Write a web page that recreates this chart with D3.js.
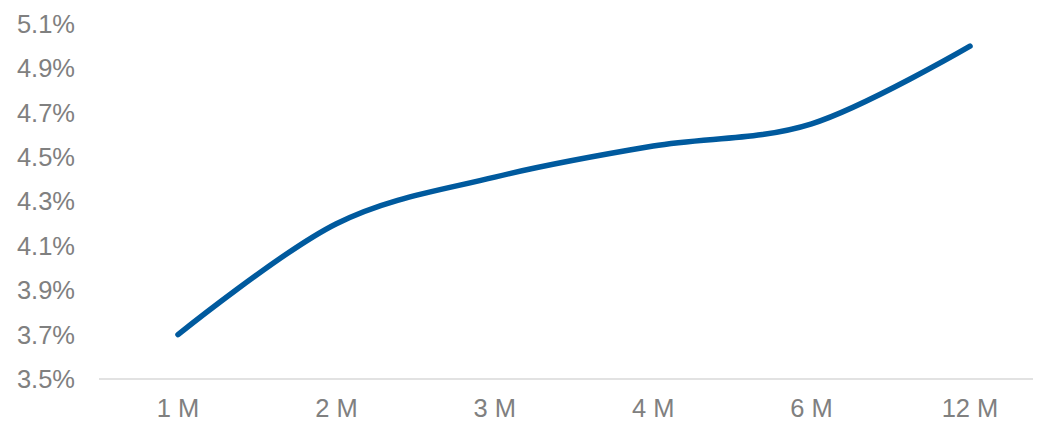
<!DOCTYPE html>
<html>
<head>
<meta charset="utf-8">
<script src="https://cdn.jsdelivr.net/npm/d3@7"></script>
<style>
  html, body { margin: 0; padding: 0; background: #ffffff; }
  svg { display: block; }
  text { font-family: "Liberation Sans", Arial, sans-serif; }
</style>
</head>
<body>
<script>
const categories = ["1 M", "2 M", "3 M", "4 M", "6 M", "12 M"];
const rates = [3.70, 4.20, 4.41, 4.55, 4.65, 5.00];
const yTicks = [3.5, 3.7, 3.9, 4.1, 4.3, 4.5, 4.7, 4.9, 5.1];

const W = 1043, H = 423;
const svg = d3.select("body").append("svg").attr("width", W).attr("height", H);

const x = d3.scalePoint().domain(categories).range([178, 970]);
const y = d3.scaleLinear().domain([3.5, 5.1]).range([379, 24]);

// x axis line
svg.append("line")
  .attr("x1", 99).attr("x2", 1033)
  .attr("y1", y(3.5)).attr("y2", y(3.5))
  .attr("stroke", "#d9d9d9").attr("stroke-width", 1.5);

// y tick labels
svg.append("g").selectAll("text").data(yTicks).join("text")
  .attr("x", 75)
  .attr("y", d => y(d))
  .attr("dy", "0.35em")
  .attr("text-anchor", "end")
  .attr("font-size", 25.5)
  .attr("fill", "#808080")
  .text(d => d.toFixed(1) + "%");

// x labels
svg.append("g").selectAll("text").data(categories).join("text")
  .attr("x", d => x(d))
  .attr("y", 417)
  .attr("text-anchor", "middle")
  .attr("font-size", 25.5)
  .attr("fill", "#808080")
  .text(d => d);

// line
const line = d3.line()
  .x((d, i) => x(categories[i]))
  .y(d => y(d))
  .curve(d3.curveCatmullRom.alpha(0));

svg.append("path")
  .datum(rates)
  .attr("d", line)
  .attr("fill", "none")
  .attr("stroke", "#005a9e")
  .attr("stroke-width", 5.5)
  .attr("stroke-linecap", "round")
  .attr("stroke-linejoin", "round");
</script>
</body>
</html>
